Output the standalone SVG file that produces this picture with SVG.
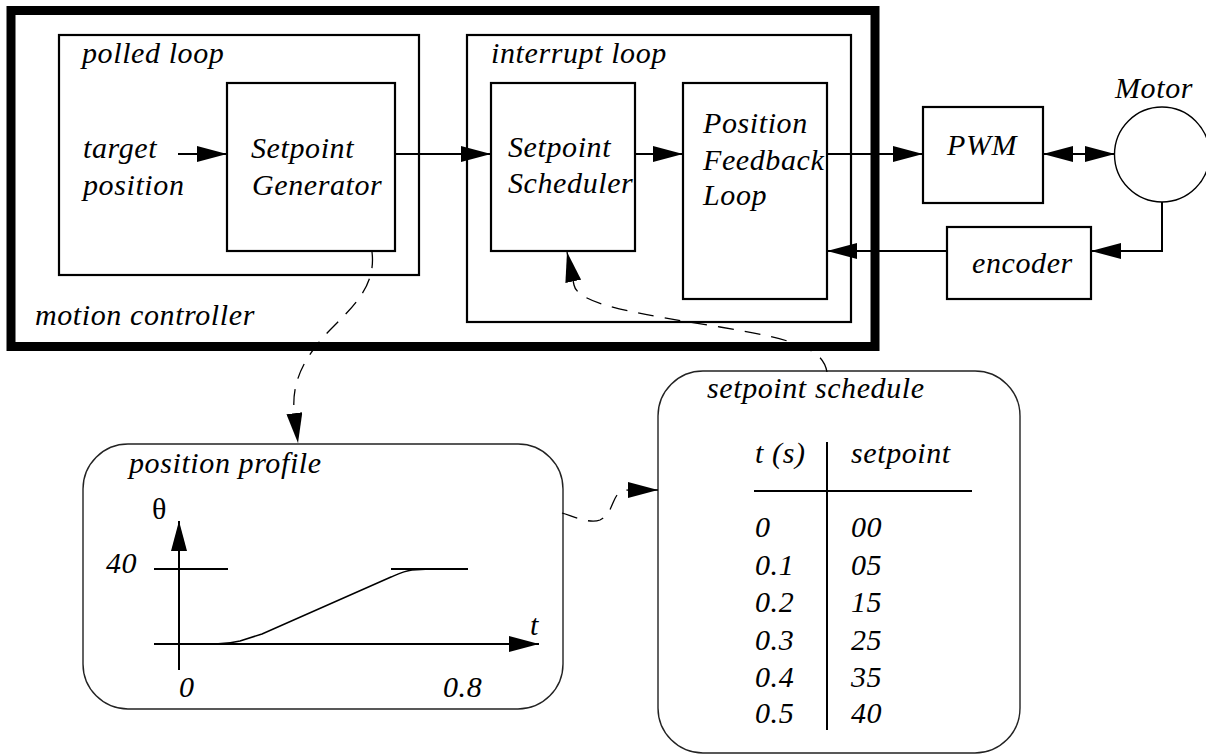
<svg xmlns="http://www.w3.org/2000/svg" width="1206" height="754" viewBox="0 0 1206 754">
<style>
text{font-style:italic;font-size:30px;letter-spacing:0.6px;fill:#000}
.box{fill:none;stroke:#000;stroke-width:2.2}
.rbox{fill:none;stroke:#222;stroke-width:1.4}
.ln{fill:none;stroke:#000;stroke-width:2}
.dash{fill:none;stroke:#000;stroke-width:1.3;stroke-dasharray:16 11}
.thin{fill:none;stroke:#000;stroke-width:1.5}
</style>
<defs>
<marker id="arr" viewBox="0 0 30 16" refX="30" refY="8" markerWidth="30" markerHeight="16" orient="auto-start-reverse" markerUnits="userSpaceOnUse">
<path d="M0,0 L30,8 L0,16 z" fill="#000"/>
</marker>
</defs>
<g font-family="Liberation Serif, Times New Roman, Times, serif">
<g id="motion-controller">
<rect x="11" y="10.5" width="864" height="336" fill="none" stroke="#000" stroke-width="9"/>
<text x="35" y="325">motion controller</text>
</g>
<g id="polled-loop">
<rect class="box" x="59" y="35" width="360" height="240"/>
<text x="82" y="63">polled loop</text>
<text x="83" y="158">target</text>
<text x="83" y="195">position</text>
</g>
<g id="setpoint-generator">
<rect class="box" x="227" y="83" width="168" height="168"/>
<text x="251" y="158">Setpoint</text>
<text x="252" y="195">Generator</text>
</g>
<g id="interrupt-loop">
<rect class="box" x="467" y="35" width="384" height="287"/>
<text x="491" y="63">interrupt loop</text>
</g>
<g id="setpoint-scheduler">
<rect class="box" x="491" y="83" width="144" height="168"/>
<text x="508" y="157">Setpoint</text>
<text x="508" y="193">Scheduler</text>
</g>
<g id="position-feedback-loop">
<rect class="box" x="683" y="83" width="144" height="216"/>
<text x="703" y="133">Position</text>
<text x="703" y="170">Feedback</text>
<text x="703" y="205">Loop</text>
</g>
<g id="pwm">
<rect class="box" x="923" y="107" width="120" height="96"/>
<text x="947" y="155">PWM</text>
</g>
<g id="motor">
<circle cx="1162" cy="154.5" r="47.5" fill="none" stroke="#000" stroke-width="1.4"/>
<text x="1115" y="98">Motor</text>
</g>
<g id="encoder">
<rect class="box" x="947" y="227" width="144" height="72"/>
<text x="972" y="273">encoder</text>
</g>
<g id="position-profile">
<rect class="rbox" x="83" y="444" width="480" height="265" rx="45" ry="45"/>
<text x="129" y="473">position profile</text>
<text x="152" y="519" font-style="normal" style="font-style:normal;letter-spacing:0">θ</text>
<line class="ln" x1="179" y1="670" x2="179" y2="521" marker-end="url(#arr)"/>
<line class="ln" x1="154" y1="644" x2="539" y2="644" marker-end="url(#arr)"/>
<line class="ln" x1="154" y1="569" x2="228" y2="569"/>
<line class="ln" x1="391" y1="569" x2="468" y2="569"/>
<path class="thin" d="M179,644 L215,644 C225,644 232,643 240,641 L262,634 L391,577 C398,574 404,571 412,570 L430,569 L468,569"/>
<text x="106" y="573">40</text>
<text x="530" y="635">t</text>
<text x="179" y="697">0</text>
<text x="443" y="697">0.8</text>
</g>
<g id="setpoint-schedule">
<rect class="rbox" x="658" y="371" width="362" height="382" rx="45" ry="45"/>
<text x="707" y="398">setpoint schedule</text>
<line class="ln" x1="827" y1="442" x2="827" y2="730"/>
<line class="ln" x1="754" y1="491" x2="972" y2="491"/>
<text x="755" y="463">t (s)</text>
<text x="851" y="463">setpoint</text>
<text x="755" y="537">0</text><text x="851" y="537">00</text>
<text x="755" y="575">0.1</text><text x="851" y="575">05</text>
<text x="755" y="612">0.2</text><text x="851" y="612">15</text>
<text x="755" y="650">0.3</text><text x="851" y="650">25</text>
<text x="755" y="687">0.4</text><text x="851" y="687">35</text>
<text x="755" y="723">0.5</text><text x="851" y="723">40</text>
</g>
</g>
<g id="connectors">
<line class="ln" x1="178" y1="154" x2="227" y2="154" marker-end="url(#arr)"/>
<line class="ln" x1="395" y1="154" x2="491" y2="154" marker-end="url(#arr)"/>
<line class="ln" x1="635" y1="154" x2="683" y2="154" marker-end="url(#arr)"/>
<line class="ln" x1="827" y1="154" x2="923" y2="154" marker-end="url(#arr)"/>
<line class="ln" x1="1043" y1="154" x2="1115" y2="154" marker-start="url(#arr)" marker-end="url(#arr)"/>
<path class="ln" d="M1162,202 V251 H1091" marker-end="url(#arr)"/>
<line class="ln" x1="947" y1="251" x2="827" y2="251" marker-end="url(#arr)"/>
<path class="dash" d="M372,252 C376,285 355,305 330,330 C305,356 292,380 294,410 L298,443" marker-end="url(#arr)"/>
<path class="dash" d="M827,372 C823,350 800,340 720,327 C640,314 578,305 574,285 L567,252" marker-end="url(#arr)"/>
<path class="dash" d="M562,513 C575,517 590,524 600,520 C612,514 612,500 618,494 C621,491 625,490 630,490 L658,490" marker-end="url(#arr)"/>
</g>
</svg>
